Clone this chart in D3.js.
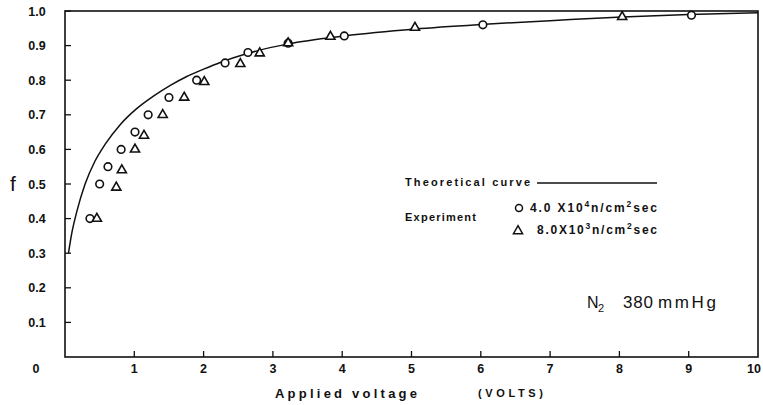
<!DOCTYPE html>
<html>
<head>
<meta charset="utf-8">
<script src="https://cdn.jsdelivr.net/npm/d3@7"></script>
<style>
  body { margin: 0; background: #fff; }
  text { font-family: "Liberation Sans", Arial, sans-serif; fill: #111; }
</style>
</head>
<body>
<div id="chart"></div>
<script>
// Values
const yTicks = [0.1, 0.2, 0.3, 0.4, 0.5, 0.6, 0.7, 0.8, 0.9, 1.0];
const yTickLabels = ["0.1", "0.2", "0.3", "0.4", "0.5", "0.6", "0.7", "0.8", "0.9", "1.0"];
const xTicks = [1, 2, 3, 4, 5, 6, 7, 8, 9, 10];
const xTickLabels = ["1", "2", "3", "4", "5", "6", "7", "8", "9", "10"];

// theoretical curve (volts, f)
const curveV = [0.05, 0.1, 0.17, 0.29, 0.43, 0.58, 0.79, 1.03, 1.27, 1.52, 1.75, 2.0, 2.25, 2.63, 3.22, 4.03, 5.05, 6.0, 7.0, 8.04, 9.0, 10];
const curveF = [0.30, 0.36, 0.42, 0.50, 0.565, 0.615, 0.67, 0.717, 0.753, 0.785, 0.81, 0.832, 0.852, 0.877, 0.905, 0.928, 0.948, 0.961, 0.972, 0.983, 0.99, 0.995];

// experiment, 4.0x10^4 n/cm2sec (circles)
const circV = [0.36, 0.50, 0.62, 0.81, 1.01, 1.20, 1.50, 1.90, 2.31, 2.64, 3.22, 4.03, 6.03, 9.04];
const circF = [0.40, 0.50, 0.55, 0.60, 0.65, 0.70, 0.75, 0.80, 0.85, 0.88, 0.907, 0.928, 0.96, 0.988];

// experiment, 8.0x10^3 n/cm2sec (triangles)
const triV = [0.46, 0.74, 0.82, 1.01, 1.14, 1.41, 1.72, 2.01, 2.53, 2.81, 3.22, 3.83, 5.05, 8.04];
const triF = [0.40, 0.49, 0.54, 0.60, 0.64, 0.70, 0.75, 0.795, 0.847, 0.878, 0.907, 0.926, 0.952, 0.983];

const width = 763, height = 405;

const svg = d3.select("#chart")
  .append("svg")
  .attr("width", width)
  .attr("height", height);

const x = d3.scaleLinear().domain([0, 10]).range([65, 758]);
const y = d3.scaleLinear().domain([0, 1]).range([357, 11]);

// frame
svg.append("rect")
  .attr("x", x(0)).attr("y", y(1))
  .attr("width", x(10) - x(0)).attr("height", y(0) - y(1))
  .attr("fill", "none").attr("stroke", "#111").attr("stroke-width", 1.6);

// y ticks point inward
svg.selectAll(".ytick")
  .data(yTicks)
  .enter().append("line")
  .attr("x1", x(0)).attr("x2", x(0) + 6)
  .attr("y1", d => y(d)).attr("y2", d => y(d))
  .attr("stroke", "#111").attr("stroke-width", 1.3);

svg.selectAll(".ylab")
  .data(yTicks)
  .enter().append("text")
  .attr("x", 37).attr("y", d => y(d) + 4.5)
  .attr("text-anchor", "middle")
  .attr("font-size", 12.5).attr("font-weight", "bold")
  .text((d, i) => yTickLabels[i]);

// the lone zero in the corner
svg.append("text")
  .attr("x", 36).attr("y", y(0) + 16)
  .attr("text-anchor", "middle")
  .attr("font-size", 12.5).attr("font-weight", "bold")
  .text("0");

// x ticks point up
svg.selectAll(".xtick")
  .data(xTicks.slice(0, -1))
  .enter().append("line")
  .attr("x1", d => x(d)).attr("x2", d => x(d))
  .attr("y1", y(0)).attr("y2", y(0) - 6)
  .attr("stroke", "#111").attr("stroke-width", 1.3);

// last label pulled in a little so it stays on the page
svg.selectAll(".xlab")
  .data(xTicks)
  .enter().append("text")
  .attr("x", d => (d === 10 ? x(d) - 4 : x(d))).attr("y", y(0) + 16)
  .attr("text-anchor", "middle")
  .attr("font-size", 12.5).attr("font-weight", "bold")
  .text((d, i) => xTickLabels[i]);

// axis titles
svg.append("text")
  .attr("x", 13).attr("y", 191)
  .attr("text-anchor", "middle")
  .attr("font-family", "'Liberation Serif', serif")
  .attr("font-size", 21)
  .text("f");

svg.append("text")
  .attr("x", 275).attr("y", 398)
  .attr("font-size", 13).attr("font-weight", "bold")
  .attr("textLength", 142).attr("lengthAdjust", "spacing")
  .text("Applied  voltage");

svg.append("text")
  .attr("x", 478).attr("y", 397)
  .attr("font-size", 11).attr("font-weight", "bold")
  .attr("textLength", 65).attr("lengthAdjust", "spacing")
  .text("(VOLTS)");

// theoretical curve
const line = d3.line()
  .x((d, i) => x(curveV[i]))
  .y(d => y(d))
  .curve(d3.curveMonotoneX);

svg.append("path")
  .datum(curveF)
  .attr("d", line)
  .attr("fill", "none")
  .attr("stroke", "#111")
  .attr("stroke-width", 1.5);

// circles
svg.selectAll(".circ")
  .data(circF)
  .enter().append("circle")
  .attr("cx", (d, i) => x(circV[i]))
  .attr("cy", d => y(d))
  .attr("r", 3.8)
  .attr("fill", "#fff")
  .attr("stroke", "#111")
  .attr("stroke-width", 1.6);

// triangles
const tri = d3.symbol().type(d3.symbolTriangle).size(36);
svg.selectAll(".tri")
  .data(triF)
  .enter().append("path")
  .attr("d", tri)
  .attr("transform", (d, i) => `translate(${x(triV[i])},${y(d)})`)
  .attr("fill", "#fff")
  .attr("stroke", "#111")
  .attr("stroke-width", 1.6);

// legend
svg.append("text")
  .attr("x", 405).attr("y", 186)
  .attr("font-size", 11).attr("font-weight", "bold")
  .attr("textLength", 125).attr("lengthAdjust", "spacing")
  .text("Theoretical  curve");

svg.append("line")
  .attr("x1", 537).attr("x2", 657)
  .attr("y1", 183).attr("y2", 183)
  .attr("stroke", "#111").attr("stroke-width", 1.4);

svg.append("text")
  .attr("x", 405).attr("y", 221)
  .attr("font-size", 11).attr("font-weight", "bold")
  .attr("textLength", 71).attr("lengthAdjust", "spacing")
  .text("Experiment");

svg.append("circle")
  .attr("cx", 519).attr("cy", 208).attr("r", 3.5)
  .attr("fill", "#fff").attr("stroke", "#111").attr("stroke-width", 1.5);

svg.append("path")
  .attr("d", tri)
  .attr("transform", "translate(518,231)")
  .attr("fill", "#fff").attr("stroke", "#111").attr("stroke-width", 1.5);

function rateLabel(xPos, yPos, mant, exp) {
  const t = svg.append("text")
    .attr("x", xPos).attr("y", yPos)
    .attr("font-size", 12).attr("font-weight", "bold");
  t.append("tspan").text(mant + "X10");
  t.append("tspan").attr("font-size", 8.5).attr("dy", -5).text(exp);
  t.append("tspan").attr("dy", 5).text("n/cm");
  t.append("tspan").attr("font-size", 8.5).attr("dy", -5).text("2");
  t.append("tspan").attr("dy", 5).text("sec");
  return t;
}
rateLabel(530, 212, "4.0 ", "4").attr("textLength", 127).attr("lengthAdjust", "spacing");
rateLabel(537, 234, "8.0", "3").attr("textLength", 120).attr("lengthAdjust", "spacing");

// gas and pressure note
const note = svg.append("g");
note.append("text").attr("x", 587).attr("y", 308).attr("font-size", 16).text("N");
note.append("text").attr("x", 598).attr("y", 312).attr("font-size", 11).text("2");
note.append("text").attr("x", 623).attr("y", 308).attr("font-size", 17)
  .attr("textLength", 30).attr("lengthAdjust", "spacing").text("380");
note.append("text").attr("x", 658).attr("y", 308).attr("font-size", 17)
  .attr("textLength", 58).attr("lengthAdjust", "spacing").text("mmHg");
</script>
</body>
</html>
